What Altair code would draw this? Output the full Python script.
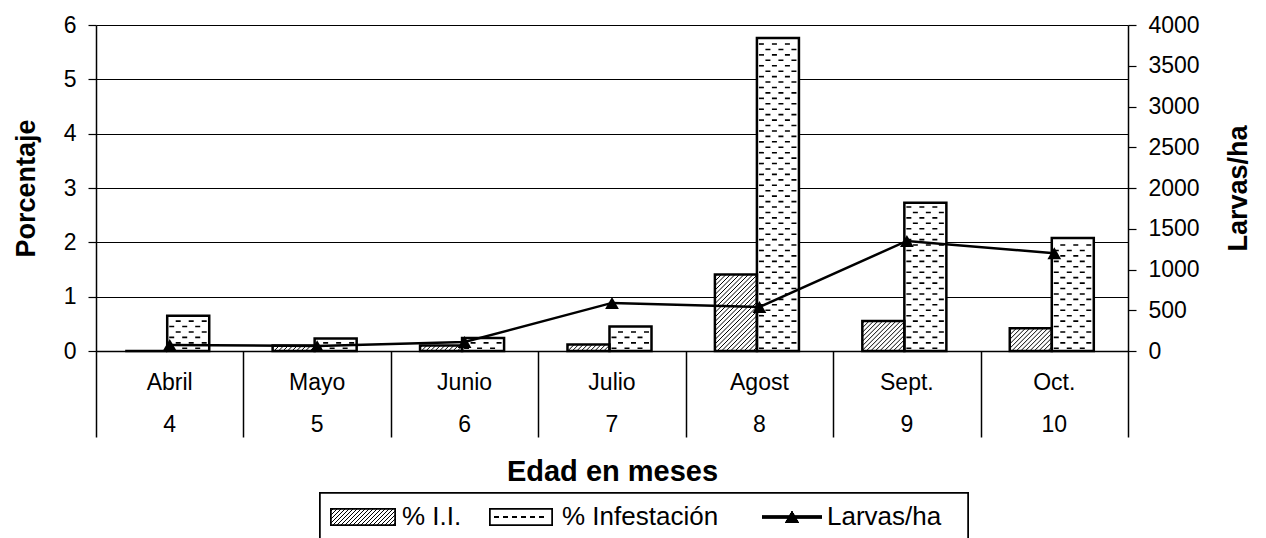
import altair as alt
import pandas as pd

# ---------------- data ----------------
months = ["Abril", "Mayo", "Junio", "Julio", "Agost", "Sept.", "Oct."]
ages = [4, 5, 6, 7, 8, 9, 10]
pct_ii = [0.0, 0.10, 0.10, 0.12, 1.41, 0.55, 0.42]          # % I.I.
pct_inf = [0.65, 0.23, 0.24, 0.45, 5.76, 2.73, 2.08]        # % Infestación
larvas = [75, 60, 110, 590, 540, 1350, 1200]                # Larvas/ha
left_ticks = [0, 1, 2, 3, 4, 5, 6]
right_ticks = [0, 500, 1000, 1500, 2000, 2500, 3000, 3500, 4000]

# ---------------- layout ----------------
W, H = 1032, 326
PAD_L, PAD_T = 96, 25
NG = len(months)
PX_X = W / NG
PX_Y = H / 6.0
BW = 0.285
SHIFT = -0.017
FONT = "Liberation Sans"

rows = []
for i, (m, a, ii, inf, lv) in enumerate(zip(months, ages, pct_ii, pct_inf, larvas)):
    cx = i + 0.5
    split = cx + SHIFT
    rows.append(dict(month=m, age=str(a), cx=cx, ii_x0=split - BW, ii_x1=split,
                     inf_x0=split, inf_x1=split + BW, ii=ii, inf=inf, zero=0.0, larvas=lv))
df = pd.DataFrame(rows)


def hatch_segments(x0, x1, top, spacing=4.5):
    wp = (x1 - x0) * PX_X
    hp = top * PX_Y
    segs = []
    c = -hp + spacing / 2
    while c < wp:
        u0 = max(0.0, c)
        v0 = u0 - c
        u1 = min(wp, hp + c)
        v1 = u1 - c
        if u1 > u0:
            segs.append(dict(x=x0 + u0 / PX_X, y=v0 / PX_Y, x2=x0 + u1 / PX_X, y2=v1 / PX_Y))
        c += spacing
    return segs


hatch = []
for r in rows:
    if r["ii"] > 0:
        hatch += hatch_segments(r["ii_x0"], r["ii_x1"], r["ii"])
hatch_df = pd.DataFrame(hatch)

dash_rows = []
for r in rows:
    k = 0
    y = 0.05
    while y < r["inf"] - 0.03:
        dash_rows.append(dict(x=r["inf_x0"] + 2 / PX_X, x2=r["inf_x1"] - 2 / PX_X, y=y, parity=k % 2))
        k += 1
        y += 0.1
dash_df = pd.DataFrame(dash_rows)

# ---------------- scales & axes ----------------
xs = alt.Scale(domain=[0, NG], nice=False, zero=False)
ys = alt.Scale(domain=[0, 6], nice=False)
ys_r = alt.Scale(domain=[0, 4000], nice=False)

x_axis = alt.Axis(values=list(range(NG + 1)), labels=False, tickSize=86, tickColor="black",
                  tickWidth=1.5, domainColor="black", domainWidth=1.5, grid=False,
                  title="Edad en meses", titleFont=FONT, titleFontSize=29, titleFontWeight="bold",
                  titleColor="black", titlePadding=20)
y_axis = alt.Axis(values=left_ticks, grid=True, gridColor="black", gridWidth=1,
                  domainColor="black", domainWidth=1.5, tickColor="black", tickSize=8, tickWidth=1.2,
                  labelFont=FONT, labelFontSize=23, labelColor="black", labelPadding=12,
                  title="Porcentaje", titleFont=FONT, titleFontSize=27, titleFontWeight="bold",
                  titleColor="black", titleAngle=270, titleX=-70, titleY=H / 2,
                  titleAlign="center", titleBaseline="middle", orient="left")
y_axis_r = alt.Axis(values=right_ticks, format="d", grid=False, domainColor="black", domainWidth=1.5,
                    tickColor="black", tickSize=8, tickWidth=1.2,
                    labelFont=FONT, labelFontSize=23, labelColor="black", labelPadding=12,
                    title="Larvas/ha", titleFont=FONT, titleFontSize=27, titleFontWeight="bold",
                    titleColor="black", titleAngle=270, titleX=110, titleY=H / 2,
                    titleAlign="center", titleBaseline="middle", orient="right")


def X(f):
    return alt.X(f, type="quantitative", scale=xs, axis=x_axis)


def Y(f):
    return alt.Y(f, type="quantitative", scale=ys, axis=y_axis)


base = alt.Chart(df)

ii_fill = base.mark_rect(fill="white").encode(x=X("ii_x0"), x2="ii_x1", y=Y("zero"), y2="ii")
inf_fill = base.mark_rect(fill="white").encode(x=X("inf_x0"), x2="inf_x1", y=Y("zero"), y2="inf")

hatch_layer = alt.Chart(hatch_df).mark_rule(color="black", strokeWidth=1).encode(
    x=X("x"), x2="x2", y=Y("y"), y2="y2")

dash_even = alt.Chart(dash_df).transform_filter("datum.parity == 0").mark_rule(
    color="black", strokeWidth=1.6, strokeDash=[5, 8], strokeDashOffset=0).encode(
    x=X("x"), x2="x2", y=Y("y"))
dash_odd = alt.Chart(dash_df).transform_filter("datum.parity == 1").mark_rule(
    color="black", strokeWidth=1.6, strokeDash=[5, 8], strokeDashOffset=6.5).encode(
    x=X("x"), x2="x2", y=Y("y"))

ii_out = base.mark_rect(fillOpacity=0, stroke="black", strokeWidth=2.5).encode(
    x=X("ii_x0"), x2="ii_x1", y=Y("zero"), y2="ii")
inf_out = base.mark_rect(fillOpacity=0, stroke="black", strokeWidth=2.5).encode(
    x=X("inf_x0"), x2="inf_x1", y=Y("zero"), y2="inf")

month_txt = base.mark_text(font=FONT, fontSize=23, color="black", baseline="middle", align="center").encode(
    x=X("cx"), y=alt.value(358), text="month:N")
age_txt = base.mark_text(font=FONT, fontSize=23, color="black", baseline="middle", align="center").encode(
    x=X("cx"), y=alt.value(400), text="age:N")

# ---------------- legend (pixel placement) ----------------
LY = 492
leg_box = base.mark_rect(fill="white", stroke="black", strokeWidth=1.5).encode(
    x=alt.value(224), x2=alt.value(872), y=alt.value(468), y2=alt.value(560))
sw1 = base.mark_rect(fill="white", stroke="black", strokeWidth=1.5).encode(
    x=alt.value(235), x2=alt.value(299), y=alt.value(LY - 8), y2=alt.value(LY + 8))
sw_hatch = []
c = -16 + 2
while c < 64:
    u0 = max(0.0, c)
    u1 = min(64.0, 16 + c)
    if u1 > u0:
        sw_hatch.append(dict(px=235 + u0, py=LY + 8 - (u0 - c), px2=235 + u1, py2=LY + 8 - (u1 - c)))
    c += 4
sw1_h = alt.Chart(pd.DataFrame(sw_hatch)).mark_rule(color="black", strokeWidth=1).encode(
    x=alt.X("px:Q", scale=None), x2="px2", y=alt.Y("py:Q", scale=None), y2="py2")
sw2 = base.mark_rect(fill="white", stroke="black", strokeWidth=1.5).encode(
    x=alt.value(394), x2=alt.value(456), y=alt.value(LY - 8), y2=alt.value(LY + 8))
sw2_d = base.mark_rule(color="black", strokeWidth=1.4, strokeDash=[5, 4]).encode(
    x=alt.value(398), x2=alt.value(452), y=alt.value(LY))
sw3_l = base.mark_rule(color="black", strokeWidth=2.5).encode(
    x=alt.value(666), x2=alt.value(726), y=alt.value(LY))
sw3_p = base.mark_point(shape="triangle-up", filled=True, color="black", size=190, opacity=1).encode(
    x=alt.value(696), y=alt.value(LY))
leg_labels = pd.DataFrame(dict(label=["% I.I.", "% Infestación", "Larvas/ha"], px=[306, 466, 731]))
leg_txt = alt.Chart(leg_labels).mark_text(font=FONT, fontSize=26, color="black", align="left",
                                          baseline="middle").encode(
    x=alt.X("px:Q", scale=None), y=alt.value(LY), text="label:N")

left = alt.layer(ii_fill, inf_fill, hatch_layer, dash_even, dash_odd, ii_out, inf_out,
                 month_txt, age_txt, leg_box, sw1, sw1_h, sw2, sw2_d, sw3_l, sw3_p, leg_txt)

YR = alt.Y("larvas", type="quantitative", scale=ys_r, axis=y_axis_r)
line = base.mark_line(color="black", strokeWidth=2.5).encode(x=X("cx"), y=YR)
pts = base.mark_point(shape="triangle-up", filled=True, color="black", size=190, opacity=1).encode(
    x=X("cx"), y=YR)
right = alt.layer(line, pts)

chart = alt.layer(left, right).resolve_scale(y="independent").properties(
    width=W, height=H,
    padding={"left": PAD_L, "top": PAD_T, "right": 1266 - PAD_L - W, "bottom": 538 - PAD_T - H},
    autosize=alt.AutoSizeParams(type="none"),
    background="white",
).configure_view(stroke=None)

chart.save("out.html", embed_options={"renderer": "svg", "actions": False})
